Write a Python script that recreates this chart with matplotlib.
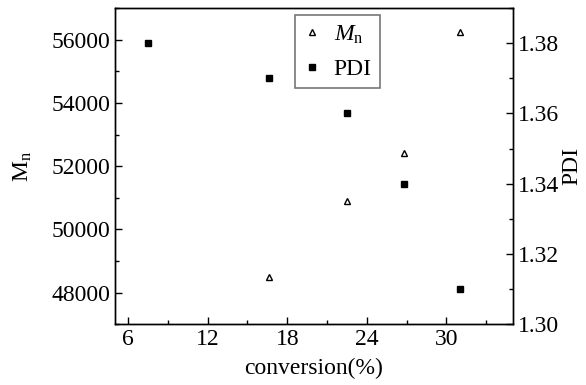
import numpy as np
import matplotlib
matplotlib.use("Agg")
import matplotlib.pyplot as plt
from matplotlib.ticker import MultipleLocator

plt.rcParams['font.family'] = ['Liberation Serif', 'DejaVu Serif']
plt.rcParams['mathtext.fontset'] = 'custom'
plt.rcParams['mathtext.rm'] = 'Liberation Serif'
plt.rcParams['mathtext.it'] = 'Liberation Serif:italic'

# data
conv_mn = [16.6, 22.5, 26.8, 31.0]
mn = [48500, 50900, 52420, 56250]
conv_pdi = [7.5, 16.6, 22.5, 26.8, 31.0]
pdi = [1.38, 1.37, 1.36, 1.34, 1.31]

fig = plt.figure(figsize=(5.86, 3.85), dpi=100)
ax = fig.add_axes([0.196, 0.158, 0.679, 0.821])
ax2 = ax.twinx()

l1, = ax.plot(conv_mn, mn, linestyle='none', marker='^', markersize=5,
              markerfacecolor='white', markeredgecolor='black', markeredgewidth=1,
              label=r'$M_{\mathrm{n}}$')
l2, = ax2.plot(conv_pdi, pdi, linestyle='none', marker='s', markersize=5,
               color='black', label='PDI')

ax.set_xlim(5, 35)
ax.set_ylim(47000, 57000)
ax2.set_ylim(1.30, 1.39)

ax.xaxis.set_major_locator(MultipleLocator(6))
ax.xaxis.set_minor_locator(MultipleLocator(3))
ax.yaxis.set_major_locator(MultipleLocator(2000))
ax.yaxis.set_minor_locator(MultipleLocator(1000))
ax2.yaxis.set_major_locator(MultipleLocator(0.02))
ax2.yaxis.set_minor_locator(MultipleLocator(0.01))
ax2.yaxis.set_major_formatter(plt.FormatStrFormatter('%.2f'))

fs = 17
for a in (ax, ax2):
    a.tick_params(which='major', direction='in', length=5, width=1, labelsize=fs)
    a.tick_params(which='minor', direction='in', length=3, width=1)
    for s in a.spines.values():
        s.set_linewidth(1)
ax.tick_params(right=False, top=False, which='both')
ax2.tick_params(top=False, which='both')

ax.set_xlabel('conversion(%)', fontsize=fs, labelpad=6)
ax.set_ylabel(r'M$_{\mathrm{n}}$', fontsize=fs, labelpad=12)
ax2.set_ylabel('PDI', fontsize=fs, labelpad=2)

leg = ax.legend(handles=[l1, l2], loc='upper left', bbox_to_anchor=(0.452, 0.978),
                borderaxespad=0, fontsize=fs, frameon=True, fancybox=False,
                edgecolor='#555555', handlelength=0.8, handletextpad=0.5,
                borderpad=0.35, labelspacing=0.55)
leg.get_frame().set_linewidth(1.2)

fig.savefig('out.png', dpi=100)
